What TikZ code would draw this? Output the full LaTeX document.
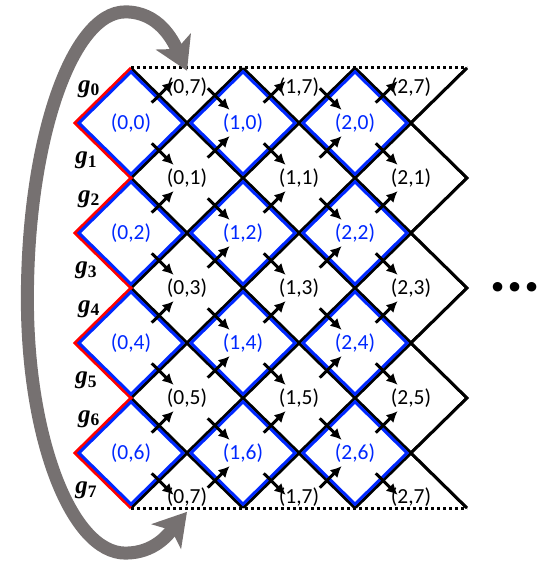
\documentclass[tikz,border=0pt]{standalone}
\usepackage{fontspec}
\setmainfont{Liberation Serif}
\newfontfamily\calibri{Carlito}
\usetikzlibrary{arrows.meta}

\definecolor{cellblue}{RGB}{0,40,255}
\definecolor{wrapgray}{RGB}{118,113,113}

\tikzset{
    edge/.style={line width=3pt},
    flow/.style={->, line width=3pt},
    cell/.style={font=\calibri\fontsize{21.5}{24}\selectfont, inner sep=0pt},
    gen/.style={font=\fontsize{25}{28}\selectfont\bfseries\itshape, inner sep=0pt},
}

\begin{document}
\begin{tikzpicture}[x=56pt, y=55pt, >={Latex[length=11pt, width=11pt]}]
        \useasboundingbox (-2.339,1.236) rectangle (7.304,-9);

        % diagonal lattice, cut to the strip
        \begin{scope}
            \clip (0,0) -- (6,0) -- (5,-1) -- (6,-2) -- (5,-3) -- (6,-4) -- (5,-5) -- (6,-6) -- (5,-7) -- (6,-8)
                -- (0,-8) -- (-1,-7) -- (0,-6) -- (-1,-5) -- (0,-4) -- (-1,-3) -- (0,-2) -- (-1,-1) -- cycle;
            \foreach \c in {-8,-6,...,6}
            {
                \draw [edge] (-2, \c+2) -- (8, \c-8);
            }
            \foreach \c in {0,2,...,14}
            {
                \draw [edge] (-2, -2-\c) -- (8, 8-\c);
            }
        \end{scope}
        \draw [edge] (6,0) -- (5,-1) -- (6,-2) -- (5,-3) -- (6,-4) -- (5,-5) -- (6,-6) -- (5,-7) -- (6,-8);
        \draw [edge, red] (0,0) -- (-1,-1) -- (0,-2) -- (-1,-3) -- (0,-4) -- (-1,-5) -- (0,-6) -- (-1,-7) -- (0,-8);

        \draw [edge, dash pattern=on 3pt off 3pt] (0,0) -- (6,0);
        \draw [edge, dash pattern=on 3pt off 3pt] (0,-8) -- (6,-8);

        % blue cells, drawn a little inside the lattice lines
        \foreach \i in {0,1,2}
            \foreach \j in {0,2,4,6}
            {
                \draw [edge, cellblue] (2*\i, -\j-0.07) -- (2*\i+0.93, -\j-1) -- (2*\i, -\j-1.93) -- (2*\i-0.93, -\j-1) -- cycle;
                \node [cell, text=cellblue] (b\i\j) at (2*\i, -\j-1) {(\i,\j)};
            }

        \foreach \i in {0,1,2}
        {
            \foreach \j in {1,3,5}
                \node [cell] (k\i\j) at (2*\i+1, -\j-1) {(\i,\j)};
            \node [cell] (top\i) at (2*\i+1, -0.35) {(\i,7)};
            \node [cell] (bot\i) at (2*\i+1, -7.8) {(\i,7)};
        }

        % one arrow across every inner edge
        \foreach \x/\s in {0.5/0, 1.5/1, 2.5/0, 3.5/1, 4.5/0}
            \foreach \k in {0,...,3}
            {
                \pgfmathsetmacro\yu{-0.5-\s-2*\k}
                \pgfmathsetmacro\yd{-1.5+\s-2*\k}
                \draw [flow] (\x-0.13, \yu-0.13) -- (\x+0.26, \yu+0.26);
                \draw [flow] (\x-0.13, \yd+0.13) -- (\x+0.26, \yd-0.26);
            }

        \foreach \k in {0,2,4,6}
            \node [gen] (g\k) at (-0.75, -\k-0.38) {g\textsubscript{\upshape\k}};
        \foreach \k in {1,3,5,7}
            \node [gen] (g\k) at (-0.8, -\k-0.68) {g\textsubscript{\upshape\k}};

        \node [font=\calibri\fontsize{64}{64}\selectfont\bfseries, anchor=base, inner sep=0pt] (more) at (6.86,-4.07) {...};

        % wrap-around between top and bottom rows
        \coordinate (wraptop) at (1,-0.05);
        \coordinate (wrapbot) at (1,-8.07);
        \draw [wrapgray, line width=13pt, {Stealth[length=32pt, width=38pt, inset=8pt]}-{Stealth[length=32pt, width=38pt, inset=8pt]}]
            (wrapbot) to[out=-130, in=0] (-0.1,-8.82)
            .. controls (-1.06,-8.82) and (-1.85,-6.74) .. (-1.85,-4.2)
            .. controls (-1.85,-1.33) and (-1.06,1.02) .. (-0.1,1.02)
            to[out=0, in=115] (wraptop);
    \end{tikzpicture}
\end{document}
